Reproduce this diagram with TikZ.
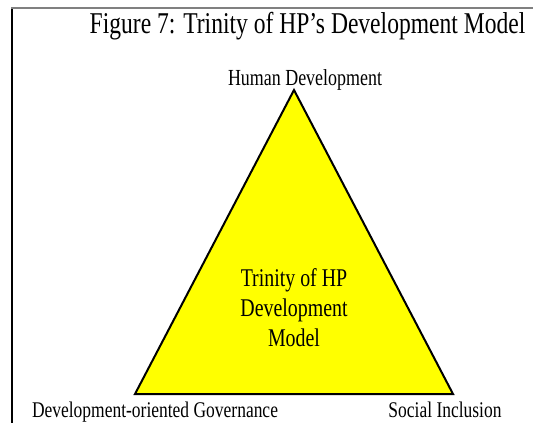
\documentclass[tikz,border=0pt]{standalone}
\usepackage{fontspec}
\setmainfont{Liberation Serif}[FakeStretch=0.78]
\definecolor{trifill}{RGB}{255,255,0}
\begin{document}
\begin{tikzpicture}[x=1pt,y=-1pt,
  lbl/.style={inner sep=0pt,anchor=base,font=\fontsize{23}{27}\selectfont},
  tri/.style={draw=black,line width=2pt,fill=trifill,line join=miter}]
\useasboundingbox (0,0) rectangle (533,423);
% frame
\draw[black,line width=1.3pt] (12,8) -- (12,423);
\draw[gray,line width=1.5pt] (11.35,8) -- (533,8);
% title
\node[lbl,font=\fontsize{30.2}{33}\selectfont] (title) at (307.5,33) {Figure 7: Trinity of HP’s Development Model};
% triangle
\coordinate (top) at (294,90);
\coordinate (bl) at (135,394);
\coordinate (br) at (453,394);
\draw[tri] (top) -- (bl) -- (br) -- cycle;
% centre text (base anchor sits on the last line)
\node[lbl,font=\fontsize{25.5}{30}\selectfont,align=center] (centre) at (294,346)
  {Trinity of HP\\Development\\Model};
% vertex labels
\node[lbl] (hd) at (305,85) {Human Development};
\node[lbl,font=\fontsize{22.4}{26}\selectfont] (gov) at (155,417) {Development-oriented Governance};
\node[lbl,font=\fontsize{22.4}{26}\selectfont] (soc) at (445,417) {Social Inclusion};
\end{tikzpicture}
\end{document}
